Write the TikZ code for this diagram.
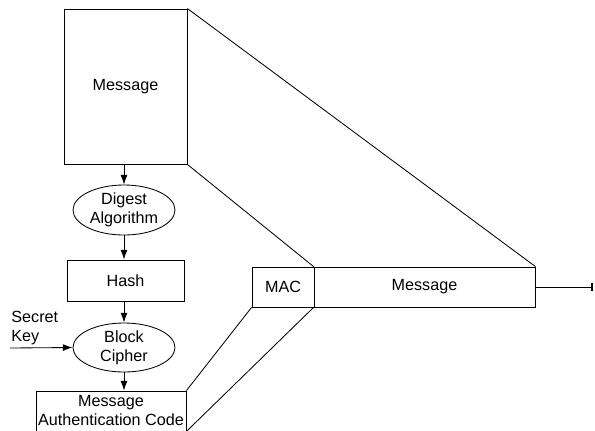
\documentclass[tikz,border=0pt]{standalone}
\usepackage{fontspec}
\setmainfont{Liberation Sans}
\usetikzlibrary{shapes.geometric,arrows.meta}
\tikzset{
	box/.style = {draw, rectangle, inner sep = 0pt, align = center},
	oval/.style = {draw, ellipse, inner sep = 0pt, align = center, minimum width = 2.55cm},
	flow/.style = {-{Latex[length=2.4mm,width=1.7mm]}},
}
\begin{document}
\begin{tikzpicture}[x=0.025cm, y=-0.025cm, line width=0.6pt, font=\fontsize{11.5}{13.5}\selectfont]
				\useasboundingbox (0,0) rectangle (595,430);
				\node (msg) at (125.5,86.5) [box, minimum width = 3.075cm, minimum height = 3.875cm] {Message};
				\node (dig) at (124,210) [oval, minimum height = 1.25cm] {Digest\\Algorithm};
				\node (hash) at (125.5,280.5) [box, minimum width = 2.925cm, minimum height = 1.025cm] {Hash};
				\node (ciph) at (124,347.5) [oval, minimum height = 1.225cm] {Block\\Cipher};
				\node (code) at (111,411) [box, minimum width = 3.75cm, minimum height = 1cm] {Message\\Authentication Code};
				\node (mac) at (283,287) [box, minimum width = 1.55cm, minimum height = 1cm] {MAC};
				\node (out) at (424.5,287) [box, minimum width = 5.525cm, minimum height = 1cm] {Message};
				\node (keytxt) at (11,328) [right, align = left, inner sep = 0pt] {Secret\\Key};
				\coordinate (key) at (10,348);
				\coordinate (end) at (593,287);
				\draw [flow] (msg.south -| dig.north) -- (dig.north);
				\draw [flow] (dig.south) -- (hash.north -| dig.south);
				\draw [flow] (hash.south -| ciph.north) -- (ciph.north);
				\draw [flow] (ciph.south) -- (code.north -| ciph.south);
				\draw [flow] (key) -- (ciph.west);
				\draw (msg.north east) -- (out.north east);
				\draw (msg.south east) -- (out.north west);
				\draw (code.north east) -- (mac.south west);
				\draw (code.south east) -- (out.south west);
				\draw [-{Bar[width=2mm,line width=1.2pt]}] (out.east) -- (end);
		\end{tikzpicture}
\end{document}
